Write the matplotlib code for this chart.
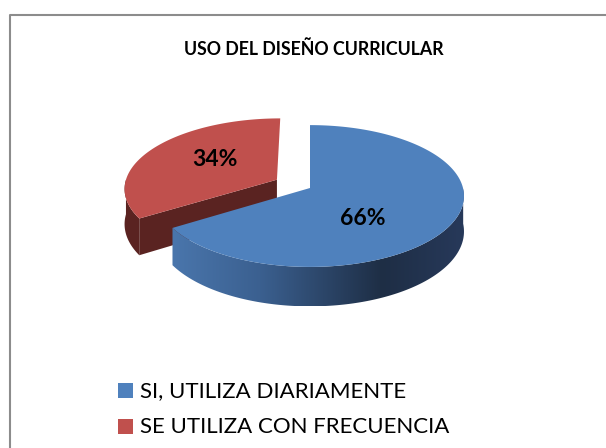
import matplotlib
matplotlib.use('Agg')
import matplotlib.pyplot as plt
import numpy as np
from matplotlib.patches import Polygon, Rectangle
from matplotlib.colors import LinearSegmentedColormap

# data
labels = ['SI, UTILIZA DIARIAMENTE', 'SE UTILIZA CON FRECUENCIA']
values = [66, 34]
pct_labels = ['66%', '34%']
colors = ['#4F81BD', '#C0504D']
side_dark = ['#1E3049', '#5A2321']
explode = [0.0, 0.25]
title = 'USO DEL DISEÑO CURRICULAR'

# pie geometry in pixels
cx, cy = 310, 188
rx, ry = 153, 70
depth = 35
k = 0.113  # perspective factor

FONT = ['Lato', 'DejaVu Sans']

# blue wall shading, left to right
side_cmap = LinearSegmentedColormap.from_list(
    'wall', [(0.0, '#4A76AC'), (0.3, '#3B6090'), (0.72, '#1E2E45'), (1.0, '#27395A')])


def project(u, v, down=0.0):
    s = 1.0 / (1.0 + k * v)
    return cx + rx * u * s, cy - ry * v * s + down * s


def draw_slice(ax, a1, a2, ex, top_col, dark_col, is_blue):
    mid = np.radians((a1 + a2) / 2)
    ou, ov = ex * np.cos(mid), ex * np.sin(mid)
    t = np.radians(np.linspace(a1, a2, 300))
    us = ou + np.cos(t)
    vs = ov + np.sin(t)

    # radial faces, only the ones turned toward the viewer
    for a, n in ((a2, a2 + 90), (a1, a1 - 90)):
        if np.sin(np.radians(n)) < 0:
            eu, ev = ou + np.cos(np.radians(a)), ov + np.sin(np.radians(a))
            q = [project(ou, ov), project(eu, ev), project(eu, ev, depth),
                 project(ou, ov, depth)]
            ax.add_patch(Polygon(q, closed=True, fc=dark_col, ec='none', zorder=2))

    # curved outer wall, front half only
    front = np.sin(t) < 0
    if front.any():
        fu, fv = us[front], vs[front]
        top = [project(u, v) for u, v in zip(fu, fv)]
        bot = [project(u, v, depth) for u, v in zip(fu, fv)]
        wall = top + bot[::-1]
        if is_blue:
            poly = Polygon(wall, closed=True, fc='none', ec='none')
            ax.add_patch(poly)
            xs = [p[0] for p in wall]
            ys = [p[1] for p in wall]
            grad = np.linspace(0, 1, 256).reshape(1, -1)
            im = ax.imshow(grad, cmap=side_cmap, aspect='auto',
                           extent=(min(xs), max(xs), max(ys), min(ys)), zorder=3)
            im.set_clip_path(poly)
        else:
            ax.add_patch(Polygon(wall, closed=True, fc=dark_col, ec='none', zorder=3))

    # top face
    pts = [project(ou, ov)] + [project(u, v) for u, v in zip(us, vs)]
    ax.add_patch(Polygon(pts, closed=True, fc=top_col, ec='none', zorder=4))
    return ou, ov


def main():
    fig = plt.figure(figsize=(6.06, 4.48), dpi=100)
    ax = fig.add_axes([0, 0, 1, 1])

    # chart border (top and left visible)
    ax.plot([9.5, 9.5, 606], [448, 15.5, 15.5], color='#8C8C8C', lw=1.5, zorder=1)

    total = sum(values)
    start = 90.0
    spans = []
    for v in values:
        a = 360.0 * v / total
        spans.append((start - a, start))
        start -= a

    # red behind, drawn first
    order = [1, 0]
    label_pos = {0: (0.33, -0.41), 1: (-0.43, 0.30)}
    for i in order:
        a1, a2 = spans[i]
        ou, ov = draw_slice(ax, a1, a2, explode[i], colors[i], side_dark[i], i == 0)
        lu, lv = label_pos[i]
        x, y = project(ou + lu, ov + lv)
        ax.text(x, y, pct_labels[i], ha='center', va='center', fontsize=16.5,
                fontweight='bold', family=FONT, color='black', zorder=6)

    ax.text(314, 49, title, ha='center', va='center', fontsize=12.8,
            fontweight='bold', family=FONT, color='black')

    # legend
    for i, lab in enumerate(labels):
        y = 390 + i * 36
        ax.add_patch(Rectangle((118, y - 7), 15, 15, fc=colors[i], ec='none'))
        ax.text(140, y + 1, lab, ha='left', va='center', fontsize=16,
                family=FONT, color='black')

    ax.set_xlim(0, 606)
    ax.set_ylim(448, 0)
    ax.axis('off')
    fig.savefig('out.png', dpi=100)


if __name__ == '__main__':
    main()
